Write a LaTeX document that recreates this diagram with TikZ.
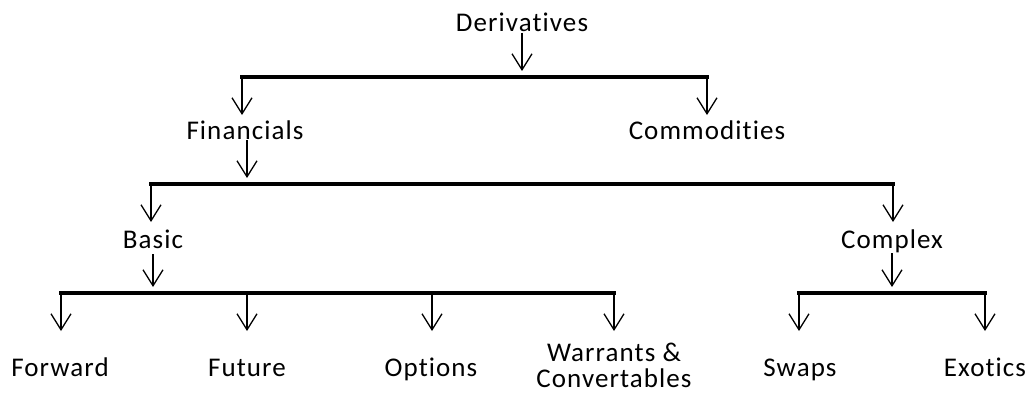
\documentclass[tikz,border=0pt]{standalone}
\usepackage{fontspec}
\setmainfont{Carlito}[LetterSpace=4,Ligatures=NoCommon]
\usetikzlibrary{arrows.meta,calc}
\begin{document}
\begin{tikzpicture}[x=1pt,y=-1pt,
  lbl/.style={inner sep=0pt, anchor=base, font=\fontsize{27}{26}\selectfont},
  arr/.style={line width=1.3pt, -{Straight Barb[length=16pt,width=20pt,line width=1.3pt]}},
  bar/.style={line width=3.8pt, line cap=rect}]
\useasboundingbox (0,0) rectangle (1033,396);
% labels
\node[lbl] (der) at (522,32) {Derivatives};
\node[lbl] (fin) at (245,139) {Financials};
\node[lbl] (com) at (707,139) {Commodities};
\node[lbl] (bas) at (153,248) {Basic};
\node[lbl] (cpx) at (892,248) {Complex};
\node[lbl] (fwd) at (60,376) {Forward};
\node[lbl] (fut) at (247,376) {Future};
\node[lbl] (opt) at (431,376) {Options};
\node[lbl,align=center] (war) at (614,387) {Warrants \&\\Convertables};
\node[lbl] (swp) at (800,376) {Swaps};
\node[lbl] (exo) at (985,376) {Exotics};
% bar end points
\coordinate (b1l) at (242,77);
\coordinate (b1r) at (707,77);
\coordinate (b2l) at (151,184);
\coordinate (b2r) at (893,184);
\coordinate (b3l) at (61,293);
\coordinate (b3r) at (614,293);
\coordinate (b4l) at (799,293);
\coordinate (b4r) at (985,293);
% bars
\draw[bar] (b1l) -- (b1r);
\draw[bar] (b2l) -- (b2r);
\draw[bar] (b3l) -- (b3r);
\draw[bar] (b4l) -- (b4r);
% arrows from parents to bars
\draw[arr] ($(der.base)+(0,1)$) -- ($(der.base |- b1l)+(0,-6)$);
\draw[arr] ($(fin.base)+(2,1)$) -- ($(fin.base |- b2l)+(2,-6)$);
\draw[arr] ($(bas.base)+(0,6)$) -- ($(bas.base |- b3l)+(0,-6)$);
\draw[arr] ($(cpx.base)+(0,5)$) -- ($(cpx.base |- b4l)+(0,-6)$);
% arrows from bars to children
\draw[arr] (b1l) -- ($(b1l)+(0,38)$) coordinate (t1);
\draw[arr] (b1r) -- ($(b1r)+(0,38)$) coordinate (t2);
\draw[arr] (b2l) -- ($(b2l)+(0,38)$) coordinate (t3);
\draw[arr] (b2r) -- ($(b2r)+(0,38)$) coordinate (t4);
\draw[arr] (b3l) -- ($(b3l)+(0,38)$) coordinate (t5);
\draw[arr] ($(fut.base |- b3l)$) -- ($(fut.base |- b3l)+(0,38)$) coordinate (t6);
\draw[arr] ($(opt.base |- b3l)+(1,0)$) -- ($(opt.base |- b3l)+(1,38)$) coordinate (t7);
\draw[arr] (b3r) -- ($(b3r)+(0,38)$) coordinate (t8);
\draw[arr] (b4l) -- ($(b4l)+(0,38)$) coordinate (t9);
\draw[arr] (b4r) -- ($(b4r)+(0,38)$) coordinate (t10);
\end{tikzpicture}
\end{document}
